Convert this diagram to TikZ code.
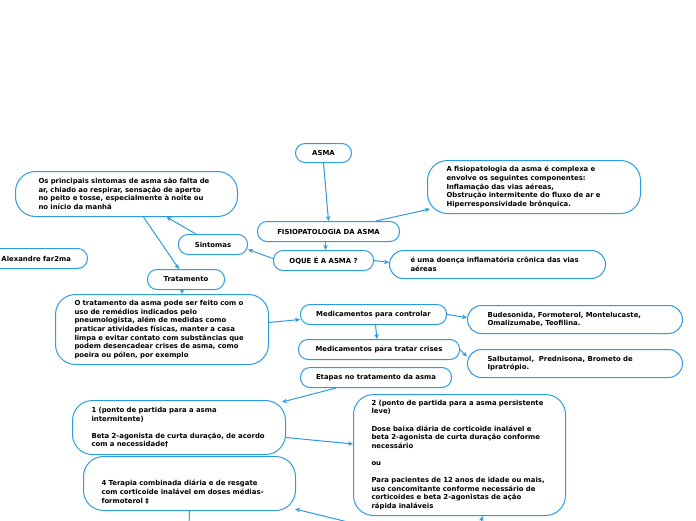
\documentclass[tikz,border=0pt]{standalone}
\usepackage{fontspec}
\setmainfont{DejaVu Sans}
\usetikzlibrary{arrows.meta}
\definecolor{lineblue}{RGB}{45,155,228}
\tikzset{
  box/.style={draw=lineblue, line width=1pt, fill=white, rectangle, rounded corners=#1,
    anchor=north west, font=\fontsize{6.9}{8.6}\selectfont\bfseries, inner ysep=0pt},
  box/.default=10pt,
  pill/.style={box=9.5pt, align=center, inner xsep=0pt},
  txt/.style={align=left},
  arr/.style={draw=lineblue, line width=1pt, -{Stealth[length=5pt,width=4.5pt]}},
  ln/.style={draw=lineblue, line width=1pt}
}
\begin{document}
\begin{tikzpicture}[x=1pt,y=-1pt]
\clip (0,0) rectangle (696,520);
\fill[white] (0,0) rectangle (696,520);

\node[pill, minimum width=56pt, minimum height=19pt] (asma) at (295,143) {ASMA};
\node[box=20pt, txt, minimum width=222pt, minimum height=45pt, text width=176pt, inner xsep=23pt] (sintlong) at (15,171)
 {Os principais sintomas de asma são falta de\\ar, chiado ao respirar, sensação de aperto\\no peito e tosse, especialmente à noite ou\\no início da manhã};
\node[box=20pt, txt, minimum width=213pt, minimum height=53pt, text width=175pt, inner xsep=19pt] (afisio) at (427,160)
 {A fisiopatologia da asma é complexa e\\envolve os seguintes componentes:\\Inflamação das vias aéreas,\\Obstrução intermitente do fluxo de ar e\\Hiperresponsividade brônquica.};
\node[pill, minimum width=142pt, minimum height=20pt] (fisio) at (257,221) {FISIOPATOLOGIA DA ASMA};
\node[pill, minimum width=69pt, minimum height=20pt] (sint) at (178,234) {Sintomas};
\node[box=10pt, txt, minimum width=102pt, minimum height=20pt, text width=70pt, inner xsep=16pt] (alex) at (-15,248) {Alexandre far2ma};
\node[pill, minimum width=100pt, minimum height=20pt] (oque) at (273,250) {OQUE É A ASMA ?};
\node[box=14pt, txt, minimum width=216pt, minimum height=28pt, text width=174pt, inner xsep=21pt] (uma) at (389,250)
 {é uma doença inflamatória crônica das vias\\aéreas};
\node[pill, minimum width=77pt, minimum height=20pt] (trat) at (147,269) {Tratamento};
\node[box=20pt, txt, minimum width=213pt, minimum height=70pt, text width=175pt, inner xsep=19pt] (otrat) at (55,294)
 {O tratamento da asma pode ser feito com o\\uso de remédios indicados pelo\\pneumologista, além de medidas como\\praticar atividades físicas, manter a casa\\limpa e evitar contato com substâncias que\\podem desencadear crises de asma, como\\poeira ou pólen, por exemplo};
\node[pill, minimum width=146pt, minimum height=20pt] (ctrl) at (300,304) {Medicamentos para controlar};
\node[box=14pt, txt, minimum width=215pt, minimum height=28pt, text width=175pt, inner xsep=20pt] (bud) at (467,305)
 {Budesonida, Formoterol, Montelucaste,\\Omalizumabe, Teofilina.};
\node[pill, minimum width=161pt, minimum height=20pt] (crises) at (298,339) {Medicamentos para tratar crises};
\node[box=14pt, txt, minimum width=215pt, minimum height=28pt, text width=175pt, inner xsep=20pt] (salb) at (467,349)
 {Salbutamol,~~Prednisona, Brometo de\\Ipratrópio.};
\node[pill, minimum width=151pt, minimum height=20pt] (etapas) at (300,367) {Etapas no tratamento da asma};
\node[box=20pt, txt, minimum width=213pt, minimum height=54pt, text width=175pt, inner xsep=19pt] (box1) at (72,400)
 {1 (ponto de partida para a asma\\intermitente)\\~\\Beta 2-agonista de curta duração, de acordo\\com a necessidade†};
\node[box=20pt, txt, minimum width=212pt, minimum height=121pt, text width=176pt, inner xsep=18pt] (box2) at (353,394)
 {2 (ponto de partida para a asma persistente\\leve)\\~\\Dose baixa diária de corticoide inalável e\\beta 2-agonista de curta duração conforme\\necessário\\~\\ou\\~\\Para pacientes de 12 anos de idade ou mais,\\uso concomitante conforme necessário de\\corticoides e beta 2-agonistas de ação\\rápida inaláveis};
\node[box=20pt, txt, minimum width=212pt, minimum height=54pt, text width=176pt, inner xsep=18pt] (box4) at (83,456)
 {\mbox{}\\[14pt]4 Terapia combinada diária e de resgate\\com corticoide inalável em doses médias-\\formoterol ‡};

\coordinate (offa) at (352,523);
\coordinate (offb) at (480,526);
\coordinate (offc) at (189,526);

\draw[arr] (asma.south) -- (fisio.north);
\draw[arr] ([xshift=-24pt]fisio.north east) -- ([xshift=3pt,yshift=5pt]afisio.south west);
\draw[arr] ([xshift=-3pt]fisio.south) -- ([xshift=2pt]oque.north);
\draw[arr] ([yshift=2pt]oque.west) -- ([yshift=-5pt]sint.east);
\draw[arr] (oque.east) -- ([yshift=2pt]uma.west);
\draw[arr] ([xshift=-17pt]sint.north) -- ([xshift=40pt]sintlong.south);
\draw[arr] ([xshift=17pt]sintlong.south) -- ([xshift=-7pt]trat.north);
\draw[arr] ([xshift=-4pt]trat.south) -- ([xshift=20pt]otrat.north);
\draw[arr] ([yshift=7pt]otrat.east) -- ([yshift=-5pt]ctrl.west);
\draw[arr] (ctrl.east) -- ([yshift=2pt]bud.west);
\draw[arr] ([xshift=2pt]ctrl.south) -- ([xshift=-2pt]crises.north);
\draw[arr] (crises.east) -- ([yshift=7pt]salb.west);
\draw[arr] ([xshift=-40pt]etapas.south) -- ([xshift=-4pt,yshift=-2pt]box1.north east);
\draw[arr] ([yshift=-10pt]box1.east) -- ([yshift=11pt]box2.west);
\draw[arr] (offa) -- ([xshift=-1pt,yshift=2pt]box4.south east);
\draw[arr] (offb) -- ([xshift=23pt]box2.south);
\draw[ln] (box4.south) -- (offc);
\end{tikzpicture}
\end{document}
